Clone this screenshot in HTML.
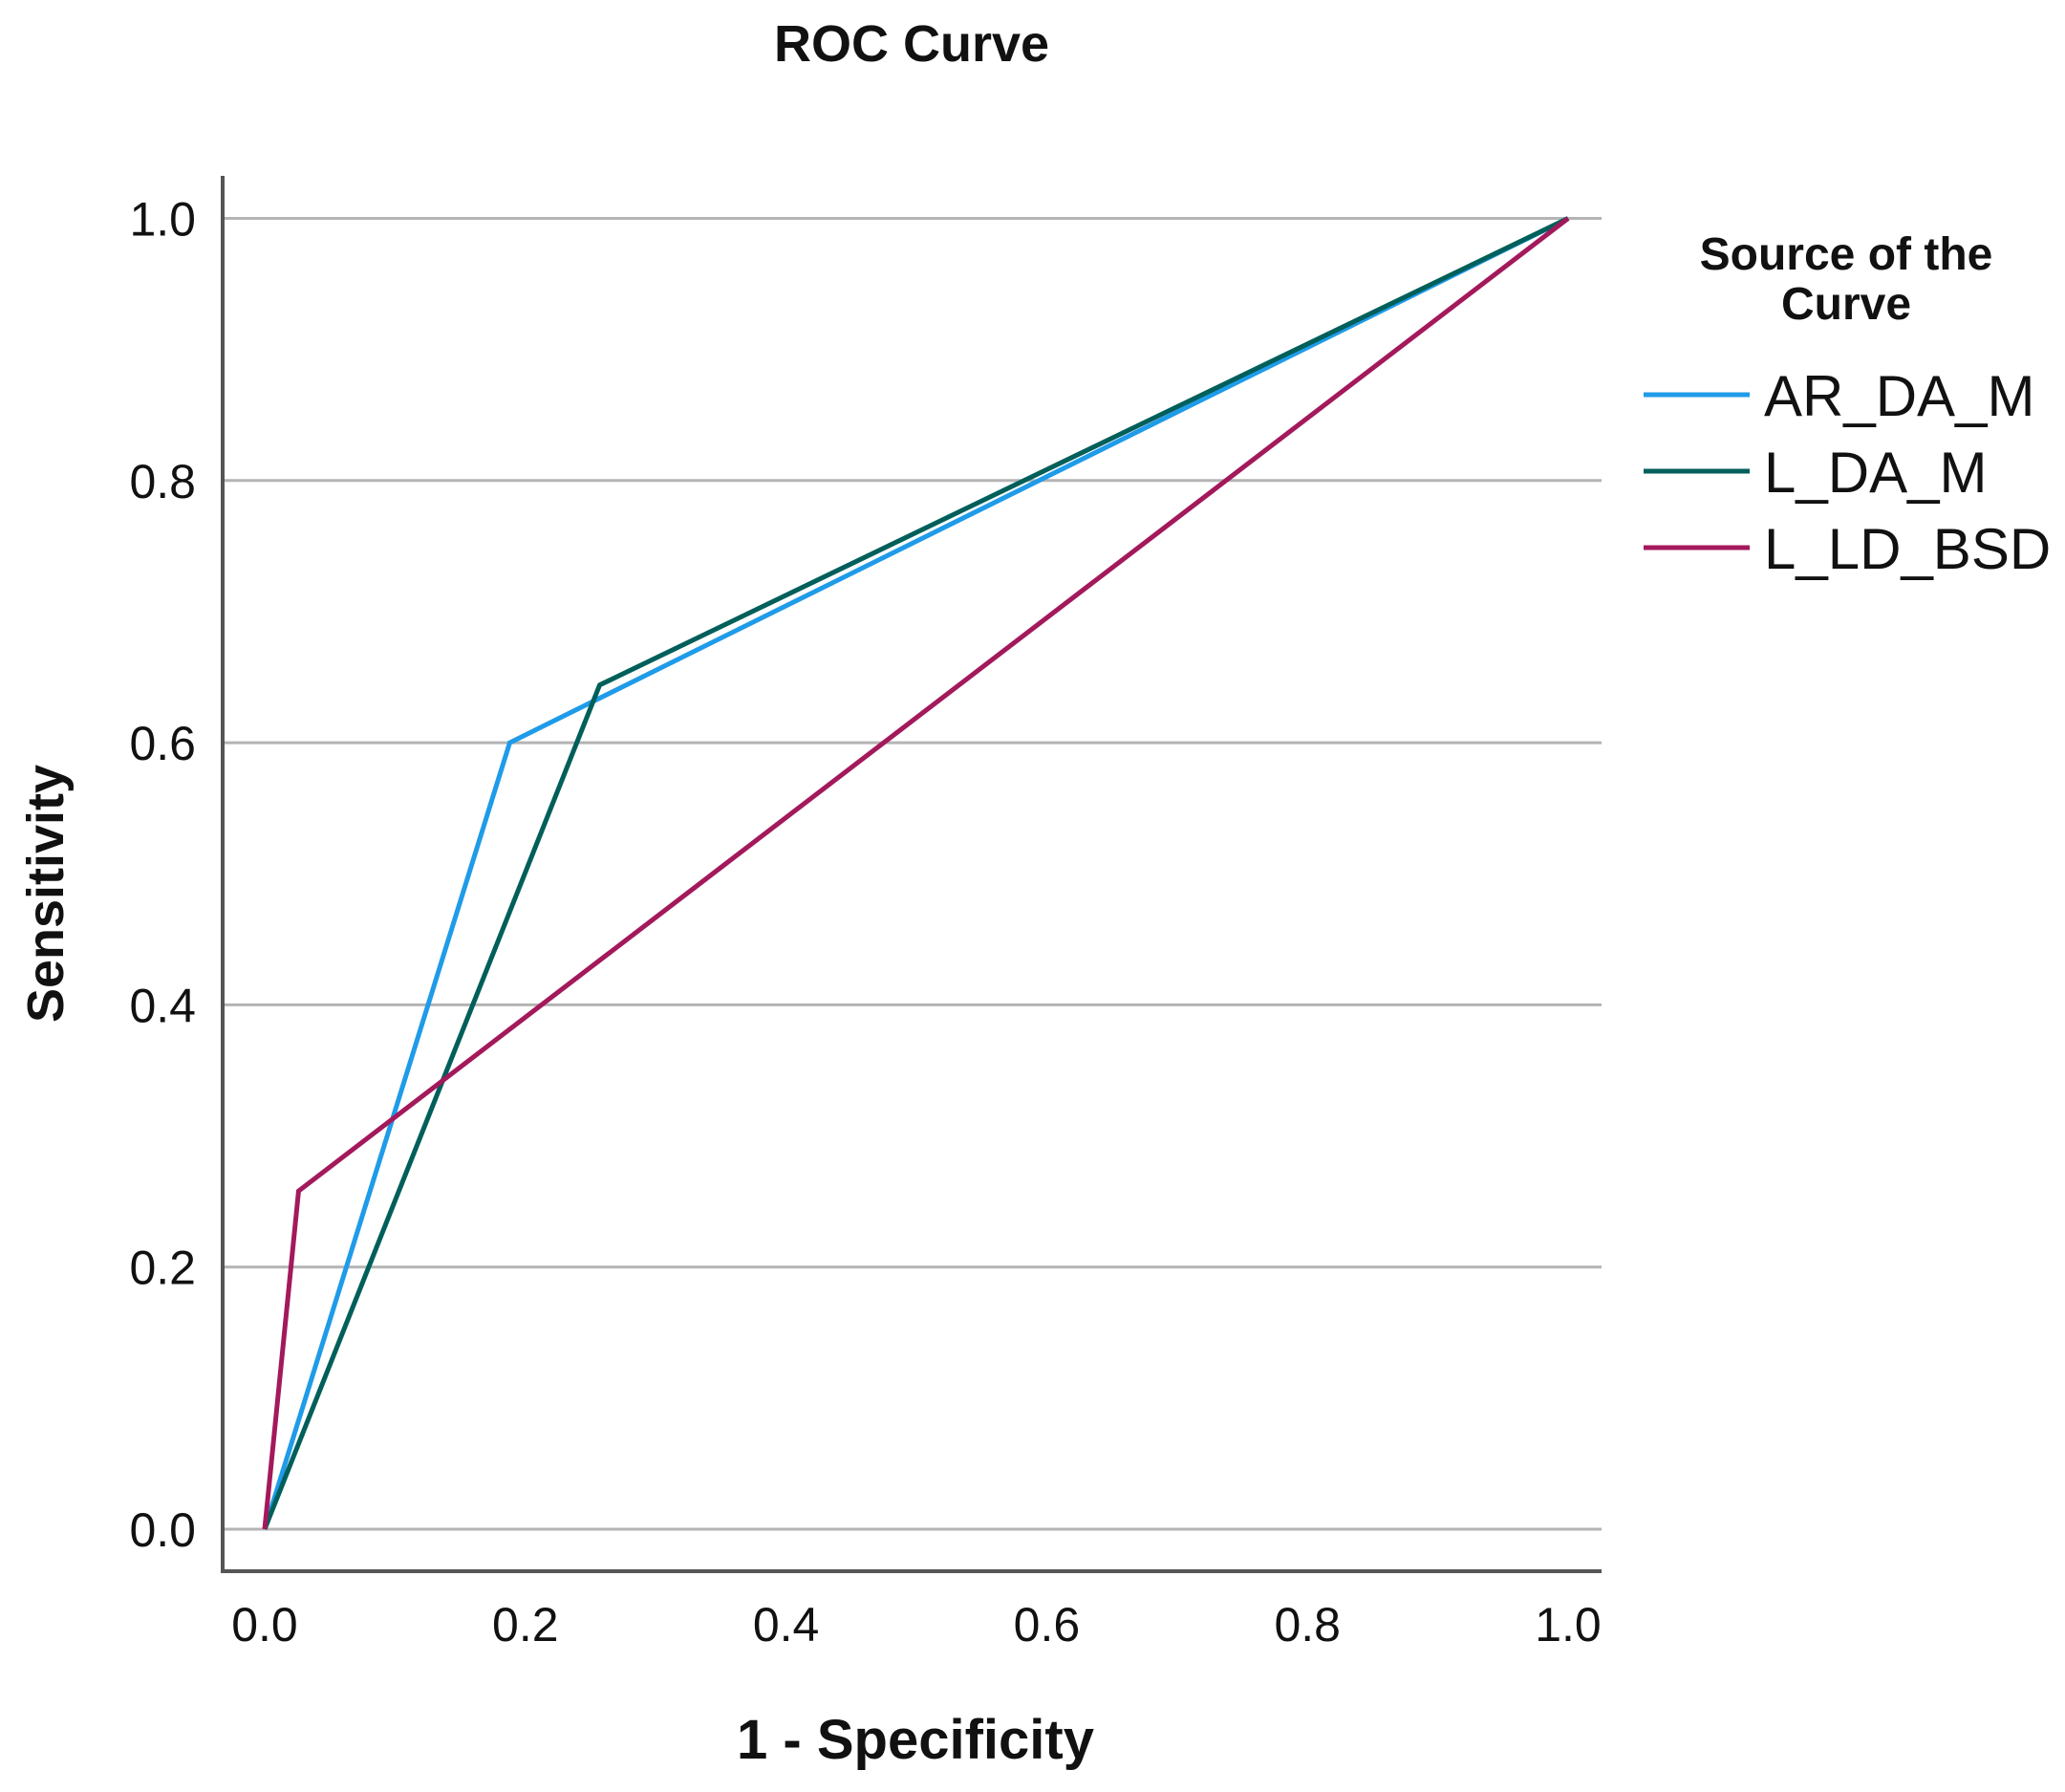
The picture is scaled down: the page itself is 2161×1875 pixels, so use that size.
<!DOCTYPE html>
<html><head><meta charset="utf-8"><style>
html,body{margin:0;padding:0;background:#fff;}
svg text{font-family:"Liberation Sans",sans-serif;}
</style></head><body>
<svg id="chart" width="2161" height="1870" viewBox="0 0 2161 1870" xmlns="http://www.w3.org/2000/svg">
<text x="954" y="64" font-size="54" font-weight="bold" text-anchor="middle" fill="#111">ROC Curve</text>
<g id="grid"></g>
<g id="series"></g>
<g id="axes"></g>
<text x="958" y="1840" font-size="58" font-weight="bold" text-anchor="middle" fill="#111">1 - Specificity</text>
<text transform="translate(66,935) rotate(-90)" font-size="54" font-weight="bold" text-anchor="middle" fill="#111">Sensitivity</text>
<g>
<text x="1932" y="282" font-size="48" font-weight="bold" text-anchor="middle" fill="#111">Source of the</text>
<text x="1932" y="334" font-size="48" font-weight="bold" text-anchor="middle" fill="#111">Curve</text>
<g id="legend-items"></g>
</g>
</svg>
<script>
const xTicks=[0,0.2,0.4,0.6,0.8,1.0];
const yTicks=[0,0.2,0.4,0.6,0.8,1.0];
const tickLabels=["0.0","0.2","0.4","0.6","0.8","1.0"];
const seriesNames=["AR_DA_M","L_DA_M","L_LD_BSD"];
const seriesColors=["#1f9be8","#005f5a","#a3195b"];
const arX=[0,0.188,1],arY=[0,0.6,1];
const ldX=[0,0.257,1],ldY=[0,0.644,1];
const bsX=[0,0.026,1],bsY=[0,0.258,1];
const ns="http://www.w3.org/2000/svg";
const X0=277,X1=1641,Y0=1600,Y1=228.5;
const sx=v=>X0+(X1-X0)*v, sy=v=>Y0+(Y1-Y0)*v;
function mk(t,a,p){const e=document.createElementNS(ns,t);for(const k in a)e.setAttribute(k,a[k]);p.appendChild(e);return e;}
const grid=document.getElementById('grid'),axes=document.getElementById('axes'),ser=document.getElementById('series'),leg=document.getElementById('legend-items');
yTicks.forEach((v,i)=>{
 const l=mk('line',{x1:233,x2:1676,y1:sy(v),y2:sy(v),stroke:'#b4b4b4','stroke-width':3},grid);
 
 
 const t=mk('text',{x:205,y:sy(v)+18,'font-size':50,'text-anchor':'end',fill:'#111'},axes);
 t.textContent=tickLabels[i];
 
 
});
xTicks.forEach((v,i)=>{
 const t=mk('text',{x:sx(v),y:1717,'font-size':50,'text-anchor':'middle',fill:'#111'},axes);
 t.textContent=tickLabels[i];
 
 
});
const ax=mk('polyline',{points:'233,184 233,1644 1676,1644',fill:'none',stroke:'#555','stroke-width':4},axes);


[[arX,arY],[ldX,ldY],[bsX,bsY]].forEach((s,i)=>{
 const pts=s[0].map((x,j)=>sx(x)+','+sy(s[1][j])).join(' ');
 const p=mk('polyline',{points:pts,fill:'none',stroke:seriesColors[i],'stroke-width':5},ser);
 
 
 const ly=413+i*80;
 const ll=mk('line',{x1:1720,x2:1831,y1:ly,y2:ly,stroke:seriesColors[i],'stroke-width':5},leg);
 
 
 const lt=mk('text',{x:1846,y:ly+22,'font-size':60,fill:'#111'},leg);
 lt.textContent=seriesNames[i];
 
 
});
</script>
</body></html>
